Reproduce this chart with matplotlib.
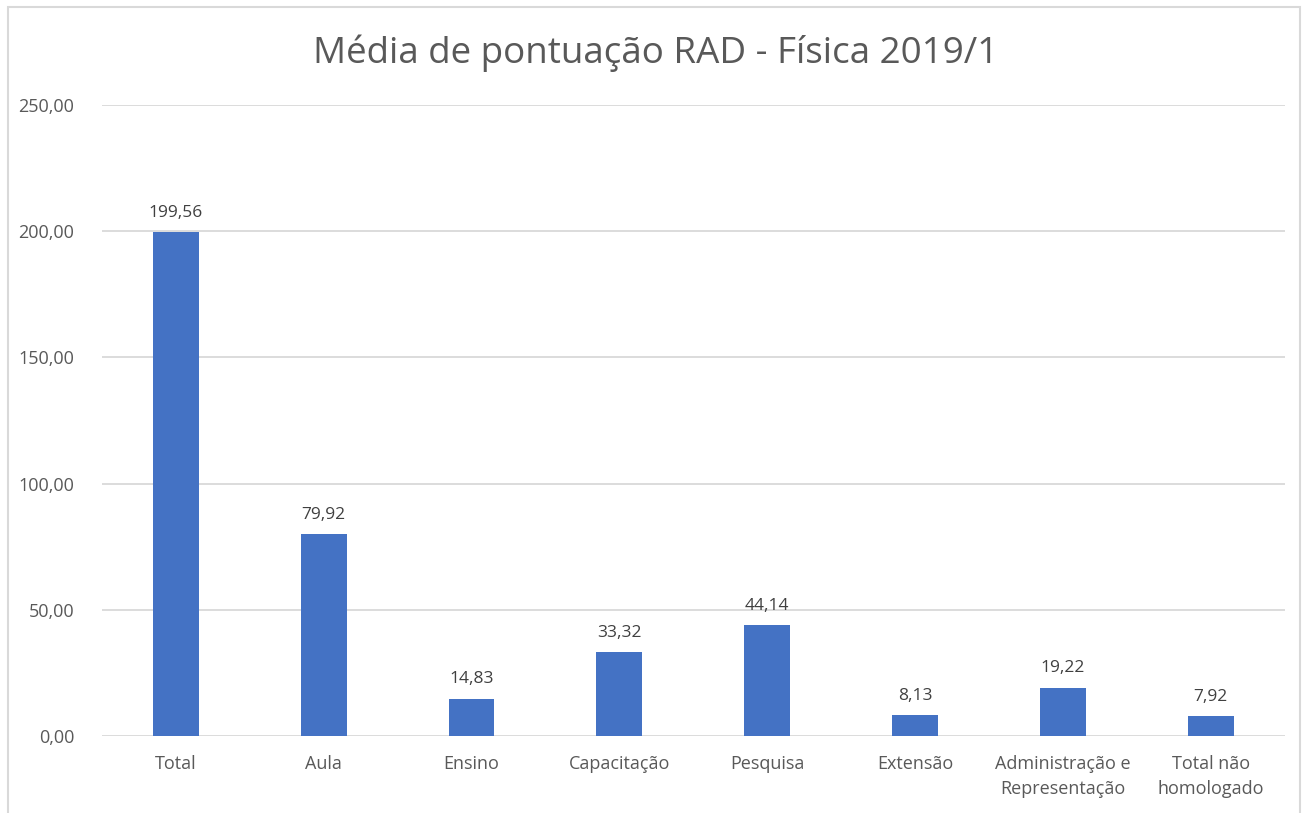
import matplotlib
matplotlib.use("Agg")
import matplotlib.pyplot as plt
from matplotlib.patches import Rectangle

categorias = ["Total", "Aula", "Ensino", "Capacitação", "Pesquisa", "Extensão",
              "Administração e\nRepresentação", "Total não\nhomologado"]
valores = [199.56, 79.92, 14.83, 33.32, 44.14, 8.13, 19.22, 7.92]
yticks = [0, 50, 100, 150, 200, 250]

AZUL = "#4472C4"
TEXTO = "#595959"
GRADE = "#D9D9D9"

plt.rcParams["font.family"] = ["Open Sans", "DejaVu Sans"]

fig = plt.figure(figsize=(13.11, 8.13), dpi=100)
ax = fig.add_axes([0.0778, 0.0947, 0.902, 0.776])

x = range(len(categorias))
bars = ax.bar(x, valores, width=0.31, color=AZUL, zorder=3)
for b, v in zip(bars, valores):
    ax.annotate(f"{v:.2f}".replace(".", ","), (b.get_x() + b.get_width() / 2, v),
                xytext=(0, 8), textcoords="offset points", ha="center", va="bottom",
                fontsize=12.5, color="#404040")

ax.set_xlim(-0.5, len(categorias) - 0.5)
ax.set_ylim(0, 250)
ax.set_yticks(yticks)
ax.set_yticklabels([f"{t:.2f}".replace(".", ",") for t in yticks])
ax.set_xticks(list(x))
ax.set_xticklabels(categorias, linespacing=1.45)
ax.tick_params(axis="both", length=0, labelsize=13, colors=TEXTO)
ax.tick_params(axis="y", pad=20)
ax.tick_params(axis="x", pad=14)
ax.grid(axis="y", color=GRADE, lw=1.3, zorder=0)
for s in ax.spines.values():
    s.set_visible(False)

fig.text(0.5, 0.934, "Média de pontuação RAD - Física 2019/1", ha="center", va="center",
         fontsize=26.5, color=TEXTO)

# borda do gráfico (cortada embaixo)
fig.patches.append(Rectangle((8 / 1311, -0.05), 1292 / 1311, 1 - 7 / 813 + 0.05,
                             transform=fig.transFigure, fill=False, ec=GRADE, lw=1.5))

fig.savefig("out.png", dpi=100)
